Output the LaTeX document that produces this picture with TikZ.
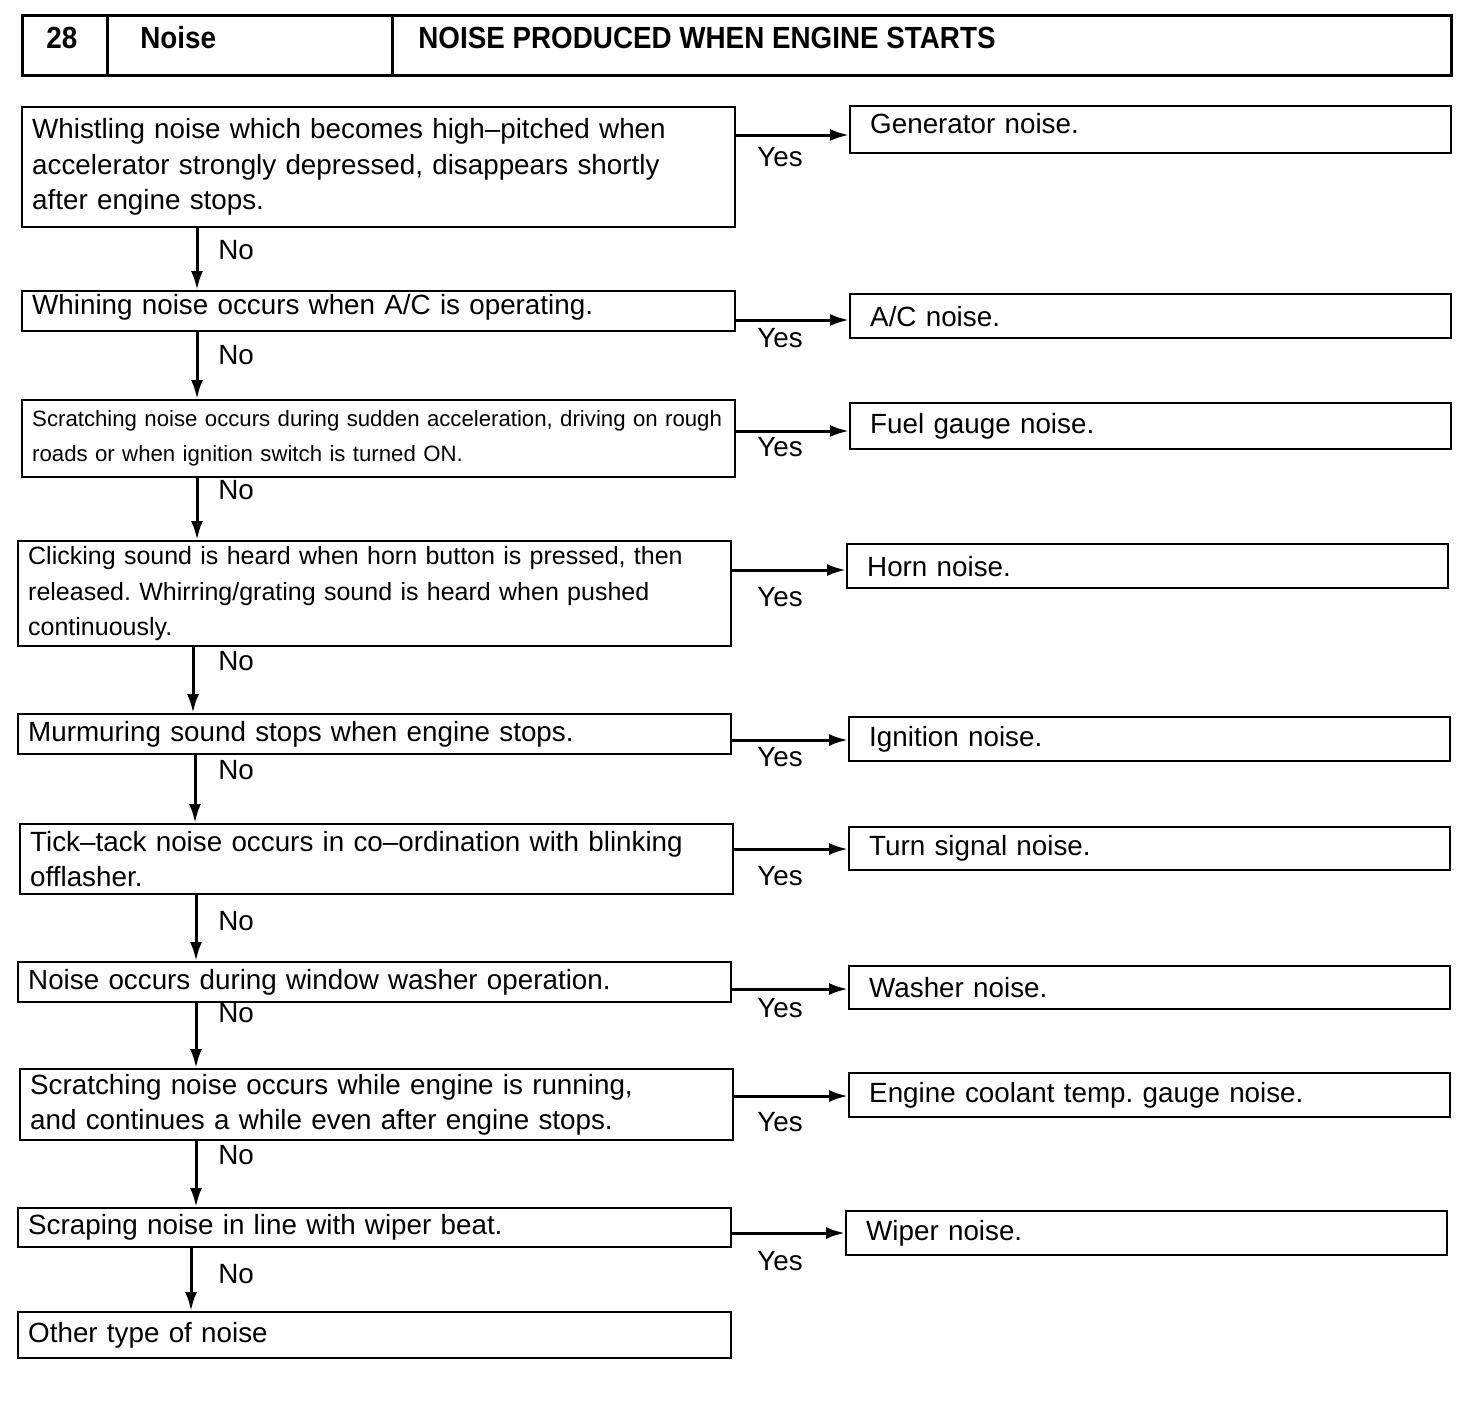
\documentclass[tikz,border=0pt]{standalone}
\usepackage{fontspec}
\setmainfont{Liberation Sans}
\usetikzlibrary{arrows.meta}
\newcommand\mfont{\fontsize{13.9}{17.8}\selectfont\frenchspacing}
\newcommand\sfont{\fontsize{11.1}{17.5}\selectfont\frenchspacing}
\newcommand\cfont{\fontsize{12.5}{17.8}\selectfont\frenchspacing}
\newcommand\hfont{\fontsize{13.9}{17.8}\selectfont\bfseries}
\begin{document}
\begin{tikzpicture}[x=0.5pt,y=-0.5pt,
  lbox/.style={draw, line width=1.2pt, anchor=north west, align=left, text width=346.5pt, inner xsep=5pt, inner ysep=0pt, font=\mfont},
  rbox/.style={draw, line width=1.2pt, anchor=north west, align=left, text width=280.5pt, inner xsep=10pt, inner ysep=0pt, font=\mfont},
  hcell/.style={draw, line width=1.3pt, anchor=north west, minimum height=30pt, inner sep=0pt},
  htext/.style={font=\hfont, anchor=base west, inner sep=0pt},
  arr/.style={line width=1.5pt, -{Latex[length=9.5pt,width=6pt]}},
  lbl/.style={font=\mfont, inner sep=0pt, anchor=west}]
\useasboundingbox (0,0) rectangle (1472,1410);

% header
\node[hcell, minimum width=42.5pt] (h1) at (21,14) {};
\node[hcell, minimum width=142.5pt] (h2) at (106,14) {};
\node[hcell, minimum width=529.5pt] (h3) at (391,14) {};
\node[htext] (t1) at (46,48) {\scalebox{1}[1.1]{28}};
\node[htext] (t2) at (140,48) {\scalebox{1}[1.1]{Noise}};
\node[htext] (t3) at (418,48) {\scalebox{1}[1.1]{NOISE PRODUCED WHEN ENGINE STARTS}};

% left boxes
\node[lbox, minimum height=60pt] (b1) at (21,106) {Whistling noise which becomes high--pitched when\\accelerator strongly depressed, disappears shortly\\after engine stops.};
\node[lbox, minimum height=20pt] (b2) at (21,290) {\raisebox{2pt}[\height][\depth]{Whining noise occurs when A/C is operating.}};
\node[lbox, minimum height=38.5pt, font=\sfont] (b3) at (21,399) {Scratching noise occurs during sudden acceleration, driving on rough\\roads or when ignition switch is turned ON.};
\node[lbox, minimum height=52.5pt, font=\cfont] (b4) at (17,540) {Clicking sound is heard when horn button is pressed, then\\released. Whirring/grating sound is heard when pushed\\continuously.};
\node[lbox, minimum height=20pt] (b5) at (17,713) {Murmuring sound stops when engine stops.};
\node[lbox, minimum height=35pt] (b6) at (19,823) {Tick--tack noise occurs in co--ordination with blinking\\offlasher.};
\node[lbox, minimum height=20pt] (b7) at (17,961) {Noise occurs during window washer operation.};
\node[lbox, minimum height=35.5pt] (b8) at (19,1068) {Scratching noise occurs while engine is running,\\and continues a while even after engine stops.};
\node[lbox, minimum height=19.5pt] (b9) at (17,1207) {Scraping noise in line with wiper beat.};
\node[lbox, minimum height=23pt] (b10) at (17,1311) {Other type of noise};

% right boxes
\node[rbox, minimum height=23.5pt] (r1) at (849,105) {\raisebox{3pt}[\height][\depth]{Generator noise.}};
\node[rbox, minimum height=22pt] (r2) at (849,293) {A/C noise.};
\node[rbox, minimum height=23pt] (r3) at (849,402) {Fuel gauge noise.};
\node[rbox, minimum height=22pt] (r4) at (846,543) {Horn noise.};
\node[rbox, minimum height=22pt] (r5) at (848,716) {Ignition noise.};
\node[rbox, minimum height=21.5pt] (r6) at (848,826) {Turn signal noise.};
\node[rbox, minimum height=21.5pt] (r7) at (848,965) {Washer noise.};
\node[rbox, minimum height=22pt] (r8) at (848,1072) {Engine coolant temp. gauge noise.};
\node[rbox, minimum height=22pt] (r9) at (845,1210) {Wiper noise.};

% yes arrows
\foreach \b/\r/\s in {b1/r1/14.5, b2/r2/15, b3/r3/16, b4/r4/15, b5/r5/13.5, b6/r6/13, b7/r7/14, b8/r8/14, b9/r9/13}{
  \draw[arr] ([yshift=-\s pt]\b.north east) -- ([yshift=-\s pt]\b.north east -| \r.west);
}
% no arrows
\foreach \a/\c/\s in {b1/b2/88, b2/b3/88, b3/b4/88, b4/b5/88, b5/b6/89, b6/b7/88.5, b7/b8/89.5, b8/b9/88.5, b9/b10/87}{
  \draw[arr] ([xshift=\s pt]\a.south west) -- ([xshift=\s pt]\a.south west |- \c.north);
}

% labels
\foreach \n/\y in {1/157, 2/338, 3/447, 4/597, 5/757, 6/876, 7/1008, 8/1122, 9/1261}{
  \node[lbl] (yes\n) at (757,\y) {Yes};
}
\foreach \n/\y in {1/250, 2/355, 3/490, 4/661, 5/770, 6/921, 7/1013, 8/1155, 9/1274}{
  \node[lbl] (no\n) at (218,\y) {No};
}
\end{tikzpicture}
\end{document}
